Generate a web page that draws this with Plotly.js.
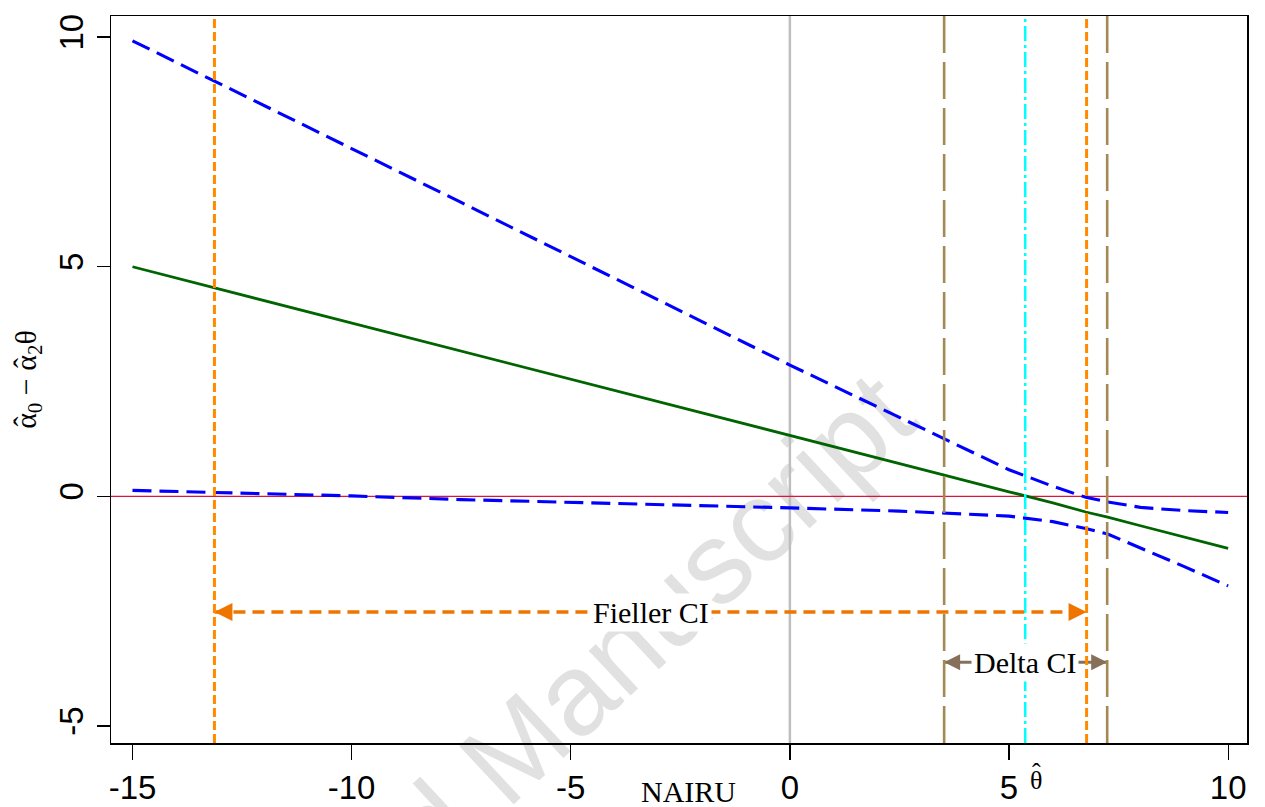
<!DOCTYPE html>
<html><head><meta charset="utf-8">
<script src="https://cdn.plot.ly/plotly-3.0.1.min.js"></script>
<style>html,body{margin:0;padding:0;background:#fff}#chart{width:1265px;height:807px}</style>
</head><body><div id="chart"></div>
<script>
// NAIRU grid (theta) and curves
const nairu = [-15,-12.5,-10,-7.5,-5,-2.5,0,2.5,3.5,5,6,6.75,7.25,8,9,10];
const estimate = [5.00,4.39,3.78,3.16,2.56,1.94,1.33,0.72,0.47,0.10,-0.14,-0.34,-0.45,-0.64,-0.88,-1.13];
const upperBand = [9.92,8.75,7.58,6.40,5.22,4.04,2.86,1.72,1.26,0.58,0.22,-0.02,-0.12,-0.24,-0.31,-0.35];
const lowerBand = [0.13,0.07,0.01,-0.07,-0.13,-0.18,-0.25,-0.32,-0.36,-0.43,-0.55,-0.70,-0.82,-1.12,-1.53,-1.95];
const thetaHat = 5.37;
const fiellerCI = [-13.13, 6.77];
const deltaCI = [3.52, 7.24];
const xTickVals = [-15,-10,-5,0,5,10];
const xTickText = ['-15','-10','-5','0','5','10'];
const yTickVals = [-5,0,5,10];
const yTickText = ['-5','0','5','10'];
const labels = {fieller:'Fieller CI', delta:'Delta CI', xTitle:'NAIRU',
  yTitle:'α<sub>0</sub> \u2212 α<sub>2</sub>θ', theta:'θ', hat:'\u02C6', watermark:'Accepted Manuscript'};

const fiellerY = -2.52, deltaY = -3.61;
const orangeV = '#FF8A00', orangeA = '#EE7600', oliveV = '#A38A55', brownA = '#86705A';
const serif = 'Liberation Serif, Times New Roman, serif';
const sans = 'Liberation Sans, Arial, sans-serif';

const traces = [
  {x: nairu, y: estimate, mode:'lines', line:{color:'#006400', width:2.8}, hoverinfo:'skip'},
  {x: nairu, y: upperBand, mode:'lines', line:{color:'#0000FF', width:3.1, dash:'19px,8px'}, hoverinfo:'skip'},
  {x: nairu, y: lowerBand, mode:'lines', line:{color:'#0000FF', width:3.1, dash:'19px,8px'}, hoverinfo:'skip'},
  {x: fiellerCI, y: [fiellerY, fiellerY], mode:'lines+markers', line:{color:orangeA, width:3.5, dash:'12px,7px'},
   marker:{symbol:['arrow-left','arrow-right'], size:18, color:orangeA, line:{width:0}}, hoverinfo:'skip'},
  {x: deltaCI, y: [deltaY, deltaY], mode:'lines+markers', line:{color:brownA, width:3},
   marker:{symbol:['arrow-left','arrow-right'], size:16, color:brownA, line:{width:0}}, hoverinfo:'skip'}
];

const vline = (x, color, width, dash) => ({type:'line', xref:'x', yref:'paper', x0:x, x1:x, y0:0, y1:1, layer:'above', line:{color, width, dash}});

const shapes = [
  {type:'line', xref:'paper', yref:'paper', x0:0.2700, y0:-0.1117, x1:0.3987, y1:0.0759, layer:'below',
   line:{color:'rgba(0,0,0,0)', width:1},
   label:{text:labels.watermark, textangle:-43, textposition:'middle', xanchor:'center', yanchor:'middle', padding:0,
          font:{family:sans, size:116, color:'#E1E1E1'}}},
  {type:'line', xref:'x', yref:'paper', x0:0, x1:0, y0:0, y1:1, layer:'below', line:{color:'#BEBEBE', width:2.5}},
  {type:'line', xref:'paper', yref:'y', x0:0, x1:1, y0:0, y1:0, layer:'below', line:{color:'#DC143C', width:1.2}},
  vline(fiellerCI[0], orangeV, 3, '9px,4px'),
  vline(fiellerCI[1], orangeV, 3, '9px,4px'),
  vline(deltaCI[0], oliveV, 2.6, '37px,9px'),
  vline(deltaCI[1], oliveV, 2.6, '37px,9px'),
  vline(thetaHat, '#00FFFF', 2.5, '15px,4px,3px,4px')
];

const annotations = [
  {x: (fiellerCI[0]+fiellerCI[1])/2, y: fiellerY, xref:'x', yref:'y', text: labels.fieller, showarrow:false,
   font:{family:serif, size:30, color:'#000'}, bgcolor:'#FFFFFF', borderpad:2},
  {x: thetaHat, y: deltaY, xref:'x', yref:'y', text: labels.delta, showarrow:false,
   font:{family:serif, size:30, color:'#000'}, bgcolor:'#FFFFFF', borderpad:2},
  {x: 0.508, y: -0.067, xref:'paper', yref:'paper', text: labels.xTitle, showarrow:false, xanchor:'center', yanchor:'middle',
   font:{family:serif, size:30, color:'#000'}},
  {x: thetaHat, y: -0.052, xref:'x', yref:'paper', text: labels.theta, showarrow:false, xanchor:'center', yanchor:'middle', xshift:11,
   font:{family:serif, size:26, color:'#000'}},
  {x: thetaHat, y: -0.052, xref:'x', yref:'paper', text: labels.hat, showarrow:false, xanchor:'center', yanchor:'middle', xshift:11, yshift:8,
   font:{family:serif, size:26, color:'#000'}},
  // circumflex accents over the two alphas of the y-axis title
  {x: -0.0713, y: 0.4421, xref:'paper', yref:'paper', text: labels.hat, showarrow:false, textangle:-90, xanchor:'center', yanchor:'middle', xshift:-6,
   font:{family:serif, size:30, color:'#000'}},
  {x: -0.0713, y: 0.5228, xref:'paper', yref:'paper', text: labels.hat, showarrow:false, textangle:-90, xanchor:'center', yanchor:'middle', xshift:-6,
   font:{family:serif, size:30, color:'#000'}}
];

const layout = {
  width:1265, height:807,
  margin:{l:111, r:18, t:16, b:64},
  paper_bgcolor:'#FFFFFF', plot_bgcolor:'rgba(0,0,0,0)',
  showlegend:false,
  xaxis:{range:[-15.49,10.43], tickmode:'array', tickvals:xTickVals, ticktext:xTickText,
         ticks:'outside', ticklen:15, tickwidth:1.3, tickcolor:'#000',
         showline:true, mirror:true, linecolor:'#000', linewidth:1.5, showgrid:false, zeroline:false,
         tickfont:{family:sans, size:33, color:'#000'}},
  yaxis:{range:[-5.37,10.46], tickmode:'array', tickvals:yTickVals, ticktext:yTickText, tickangle:-90,
         ticks:'outside', ticklen:13, tickwidth:1.3, tickcolor:'#000',
         showline:true, mirror:true, linecolor:'#000', linewidth:1.5, showgrid:false, zeroline:false,
         tickfont:{family:sans, size:33, color:'#000'},
         title:{text: labels.yTitle, font:{family:serif, size:30, color:'#000'}, standoff:8}},
  shapes, annotations
};

Plotly.newPlot('chart', traces, layout, {staticPlot:true, displayModeBar:false});
</script></body></html>
